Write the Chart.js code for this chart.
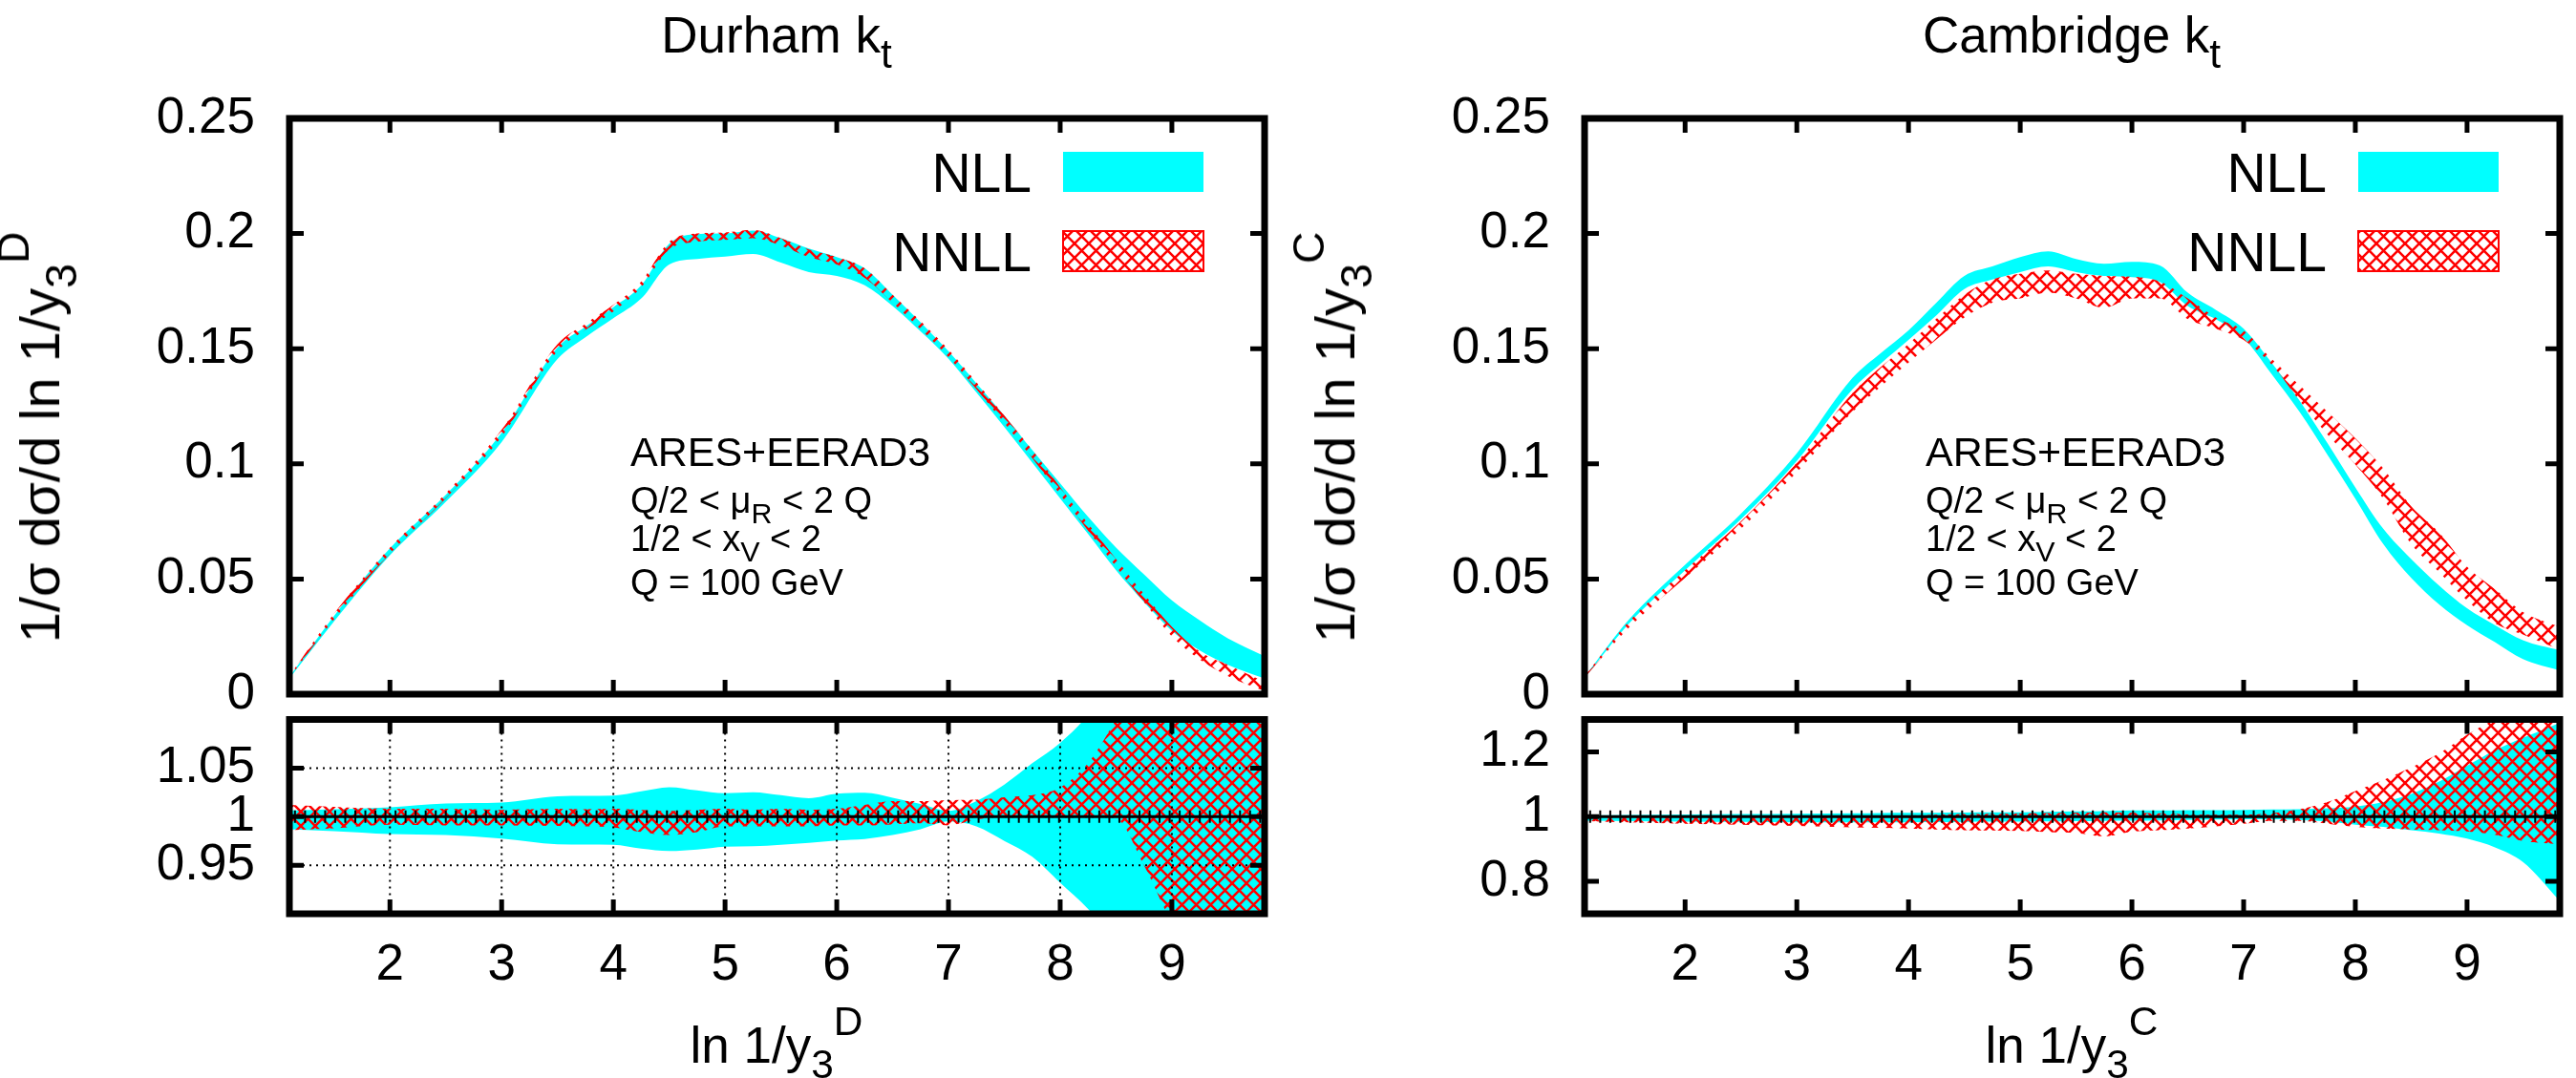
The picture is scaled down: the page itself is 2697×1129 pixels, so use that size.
<!DOCTYPE html>
<html>
<head>
<meta charset="utf-8">
<script src="https://cdn.jsdelivr.net/npm/chart.js@4.4.1/dist/chart.umd.min.js"></script>
<style>
  html, body { margin: 0; padding: 0; background: #fff; }
  body { width: 2697px; height: 1129px; position: relative; overflow: hidden;
         font-family: 'Liberation Sans', Arial, Helvetica, sans-serif; color: #000; }
  canvas { position: absolute; }
  .t { position: absolute; white-space: nowrap; line-height: 1; }
  .sub { font-size: 0.8em; position: relative; top: 0.38em; }
  .sup { font-size: 0.8em; position: relative; top: -0.68em; }
</style>
</head>
<body>
<canvas id="durMain" width="1348" height="745" style="left:0;top:0"></canvas>
<canvas id="durRatio" width="1348" height="384" style="left:0;top:745px"></canvas>
<canvas id="camMain" width="1349" height="745" style="left:1348px;top:0"></canvas>
<canvas id="camRatio" width="1349" height="384" style="left:1348px;top:745px"></canvas>
<script>
// --- Data ---

const lnY3 = [1.1, 1.5, 2, 2.5, 3, 3.5, 3.75, 4, 4.25, 4.5, 4.75, 5, 5.25, 5.5, 5.75, 6,
              6.25, 6.5, 6.75, 7, 7.25, 7.5, 7.75, 8, 8.25, 8.5, 8.75, 9, 9.25, 9.5, 9.83];

// Durham, distribution
const durNllHi  = [.0075, .034, .0633, .0865, .1135, .1505, .1595, .1680, .1775, .1956, .1997, .2000, .2013, .1980, .1935, .1898,
                   .1849, .1734, .1615, .1489, .1350, .1210, .1060, .0915, .0770, .0636, .0520, .0407, .0320, .0243, .0165];
const durNllLo  = [.0068, .0316, .0603, .0835, .1095, .1455, .1550, .1632, .1718, .1866, .1890, .1900, .1911, .1874, .1833, .1816,
                   .1775, .1685, .1575, .1456, .1310, .1160, .1005, .0850, .0695, .0538, .0400, .0275, .0190, .0128, .0068];
const durNnllHi = [.0078, .0350, .0636, .0872, .1148, .1520, .1608, .1690, .1792, .1964, .2000, .2005, .2016, .1980, .1931, .1898,
                   .1849, .1734, .1620, .1497, .1355, .1210, .1060, .0898, .0740, .0587, .0435, .0292, .0185, .0128, .0054];
const durNnllLo = [.0072, .0325, .0610, .0850, .1118, .1490, .1582, .1662, .1767, .1931, .1964, .1972, .1980, .1948, .1898, .1866,
                   .1808, .1700, .1585, .1464, .1325, .1177, .1025, .0866, .0710, .0554, .0400, .0251, .0150, .0079, .0013];

// Cambridge, distribution
const camNllHi  = [.0075, .0325, .0562, .0784, .1046, .1374, .1480, .1580, .1700, .1816, .1857, .1898, .1923, .1890, .1869, .1877,
                   .1862, .1743, .1669, .1587, .1440, .1275, .1090, .0898, .0718, .0587, .0472, .0373, .0300, .0234, .0190];
const camNllLo  = [.0070, .0308, .0538, .0760, .1013, .1325, .1435, .1538, .1645, .1759, .1800, .1833, .1857, .1833, .1816, .1811,
                   .1790, .1685, .1628, .1546, .1390, .1226, .1040, .0849, .0652, .0505, .0390, .0300, .0226, .0152, .0103];
const camNnllHi = [.0078, .0317, .0538, .0750, .1005, .1308, .1420, .1521, .1630, .1734, .1800, .1825, .1840, .1825, .1816, .1813,
                   .1792, .1718, .1636, .1579, .1456, .1341, .1226, .1111, .0980, .0816, .0702, .0554, .0456, .0357, .0292];
const camNnllLo = [.0072, .0290, .0505, .0718, .0964, .1226, .1335, .1440, .1540, .1636, .1700, .1718, .1743, .1718, .1677, .1718,
                   .1718, .1628, .1587, .1538, .1431, .1275, .1128, .0997, .0849, .0652, .0530, .0407, .0308, .0259, .0193];

// Durham, ratio
const durRNllHi  = [1.0065, 1.0077, 1.0097, 1.0135, 1.0145, 1.0210, 1.0213, 1.0216, 1.0260, 1.0303, 1.0270, 1.0240, 1.0250, 1.0220, 1.0190, 1.0235,
                    1.0245, 1.0195, 1.0130, 1.0060, 1.0160, 1.0330, 1.0550, 1.0760, 1.1050, 1.1500, 1.1900, 1.2300, 1.2700, 1.3100, 1.3600];
const durRNllLo  = [0.987, 0.985, 0.982, 0.981, 0.9775, 0.9716, 0.9713, 0.971, 0.967, 0.9645, 0.966, 0.969, 0.9695, 0.971, 0.973, 0.9755,
                    0.977, 0.981, 0.987, 0.995, 0.990, 0.975, 0.9587, 0.932, 0.905, 0.870, 0.830, 0.790, 0.750, 0.710, 0.660];
const durRNnllHi = [1.012, 1.010, 1.008, 1.008, 1.007, 1.008, 1.0075, 1.008, 1.007, 1.006, 1.007, 1.008, 1.007, 1.008, 1.007, 1.008,
                    1.012, 1.016, 1.016, 1.017, 1.0175, 1.020, 1.022, 1.030, 1.055, 1.100, 1.150, 1.200, 1.250, 1.300, 1.360];
const durRNnllLo = [0.986, 0.988, 0.9916, 0.991, 0.991, 0.9905, 0.990, 0.989, 0.984, 0.981, 0.984, 0.990, 0.990, 0.990, 0.990, 0.991,
                    0.991, 0.992, 0.993, 0.991, 0.997, 1.000, 1.000, 1.000, 1.000, 0.998, 0.950, 0.890, 0.840, 0.790, 0.730];

// Cambridge, ratio
const camRNllHi  = [1.004, 1.005, 1.007, 1.008, 1.009, 1.010, 1.011, 1.0116, 1.012, 1.0125, 1.013, 1.0135, 1.015, 1.016, 1.017, 1.019,
                    1.019, 1.020, 1.020, 1.021, 1.022, 1.023, 1.026, 1.031, 1.045, 1.070, 1.108, 1.157, 1.205, 1.243, 1.290];
const camRNllLo  = [0.9874, 0.986, 0.9845, 0.9835, 0.9826, 0.9826, 0.9826, 0.9826, 0.983, 0.984, 0.9845, 0.9845, 0.985, 0.986, 0.987, 0.9874,
                    0.988, 0.990, 0.991, 0.992, 0.992, 0.990, 0.985, 0.975, 0.968, 0.958, 0.948, 0.932, 0.905, 0.860, 0.740];
const camRNnllHi = [1.002, 1.001, 1.000, 1.001, 1.002, 1.003, 1.004, 1.004, 1.006, 1.008, 1.009, 1.0097, 1.011, 1.0116, 1.013, 1.0116,
                    1.010, 1.007, 1.006, 1.006, 1.010, 1.023, 1.045, 1.079, 1.113, 1.152, 1.195, 1.253, 1.300, 1.340, 1.380];
const camRNnllLo = [0.987, 0.982, 0.978, 0.975, 0.971, 0.967, 0.965, 0.963, 0.960, 0.958, 0.957, 0.9556, 0.952, 0.949, 0.939, 0.9536,
                    0.958, 0.963, 0.970, 0.978, 0.987, 0.987, 0.978, 0.968, 0.963, 0.960, 0.958, 0.954, 0.944, 0.925, 0.915];

// bin centres of the reference points drawn on the ratio line
const refBins = [1.15, 1.24, 1.33, 1.42, 1.51, 1.60, 1.69, 1.78, 1.87, 1.96, 2.05, 2.14, 2.23, 2.32, 2.41, 2.50,
                 2.59, 2.68, 2.77, 2.86, 2.95, 3.04, 3.13, 3.22, 3.31, 3.40, 3.49, 3.58, 3.67, 3.76, 3.85, 3.94,
                 4.03, 4.12, 4.21, 4.30, 4.39, 4.48, 4.57, 4.66, 4.75, 4.84, 4.93, 5.02, 5.11, 5.20, 5.29, 5.38,
                 5.47, 5.56, 5.65, 5.74, 5.83, 5.92, 6.01, 6.10, 6.19, 6.28, 6.37, 6.46, 6.55, 6.64, 6.73, 6.82,
                 6.91, 7.00, 7.09, 7.18, 7.27, 7.36, 7.45, 7.54, 7.63, 7.72, 7.81, 7.90, 7.99, 8.08, 8.17, 8.26,
                 8.35, 8.44, 8.53, 8.62, 8.71, 8.80, 8.89, 8.98, 9.07, 9.16, 9.25, 9.34, 9.43, 9.52, 9.61, 9.70, 9.79];

const xMin = 1.1, xMax = 9.83;
const xTickVals = [2, 3, 4, 5, 6, 7, 8, 9];
const xTickLabels = ['2', '3', '4', '5', '6', '7', '8', '9'];
const mainYTicks = [0, 0.05, 0.1, 0.15, 0.2, 0.25];
const mainYLabels = ['0', '0.05', '0.1', '0.15', '0.2', '0.25'];
const durRatioTicks = [0.95, 1, 1.05];
const durRatioLabels = ['0.95', '1', '1.05'];
const camRatioTicks = [0.8, 1, 1.2];
const camRatioLabels = ['0.8', '1', '1.2'];

// --- Styling helpers ---

const FONT = "'Liberation Sans', Arial, Helvetica, sans-serif";
const CYAN = '#00ffff';
const RED = '#ff0000';

function makeHatch(size, lw) {
    const c = document.createElement('canvas');
    c.width = c.height = size;
    const g = c.getContext('2d');
    g.strokeStyle = RED;
    g.lineWidth = lw;
    g.beginPath();
    for (const k of [-size, 0, size]) {
        g.moveTo(k, 0); g.lineTo(k + size, size);
        g.moveTo(k, size); g.lineTo(k + size, 0);
    }
    g.stroke();
    return g.createPattern(c, 'repeat');
}
const hatch = makeHatch(15, 2.5);

// frame, inward ticks on all four sides, optional grid and key
const framePlugin = {
    id: 'frame',
    afterDatasetsDraw(chart, args, o) {
        const { ctx, chartArea: a } = chart;
        const sx = chart.scales.x, sy = chart.scales.y;
        const yTicks = o.yTicks || [];
        ctx.save();
        if (o.grid) {
            ctx.strokeStyle = '#000';
            ctx.lineWidth = 2;
            ctx.setLineDash([2, 5]);
            ctx.beginPath();
            xTickVals.forEach(v => { const p = sx.getPixelForValue(v); ctx.moveTo(p, a.top); ctx.lineTo(p, a.bottom); });
            yTicks.forEach(v => { const p = sy.getPixelForValue(v); ctx.moveTo(a.left, p); ctx.lineTo(a.right, p); });
            ctx.stroke();
            ctx.setLineDash([]);
        }
        const L = 15;
        ctx.strokeStyle = '#000';
        ctx.lineWidth = 5;
        ctx.beginPath();
        xTickVals.forEach(v => {
            const p = sx.getPixelForValue(v);
            ctx.moveTo(p, a.bottom); ctx.lineTo(p, a.bottom - L);
            ctx.moveTo(p, a.top); ctx.lineTo(p, a.top + L);
        });
        yTicks.forEach(v => {
            const p = sy.getPixelForValue(v);
            ctx.moveTo(a.left, p); ctx.lineTo(a.left + L, p);
            ctx.moveTo(a.right, p); ctx.lineTo(a.right - L, p);
        });
        ctx.stroke();
        ctx.lineWidth = 7;
        ctx.strokeRect(a.left, a.top, a.right - a.left, a.bottom - a.top);

        if (o.legend) {
            const ds = chart.data.datasets;
            const w = 147, h = 42, x0 = a.right - 64 - w;
            const rows = [
                { label: ds[1].label, top: a.top + 35, fill: CYAN, border: null },
                { label: ds[3].label, top: a.top + 118, fill: hatch, border: RED }
            ];
            ctx.font = '57px ' + FONT;
            ctx.textAlign = 'right';
            ctx.textBaseline = 'alphabetic';
            rows.forEach(r => {
                ctx.fillStyle = r.fill;
                ctx.fillRect(x0, r.top, w, h);
                if (r.border) {
                    ctx.strokeStyle = r.border;
                    ctx.lineWidth = 2;
                    ctx.strokeRect(x0, r.top, w, h);
                }
                ctx.fillStyle = '#000';
                ctx.fillText(r.label, x0 - 33, r.top + h);
            });
        }
        ctx.restore();
    }
};

function makeChart(id, cfg) {
    const pts = arr => lnY3.map((x, i) => ({ x, y: arr[i] }));
    // higher order is drawn first: NLL underneath, NNLL hatch above, reference line on top
    const band = (label, data, bg, fill, order) => ({
        label, data, fill, order,
        backgroundColor: bg,
        borderColor: 'rgba(0,0,0,0)',
        borderWidth: 0,
        pointRadius: 0,
        cubicInterpolationMode: 'monotone'
    });
    const datasets = [
        band('NLL low', pts(cfg.nllLo), 'rgba(0,0,0,0)', false, 3),
        band('NLL', pts(cfg.nllHi), CYAN, '-1', 3),
        band('NNLL low', pts(cfg.nnllLo), 'rgba(0,0,0,0)', false, 2),
        band('NNLL', pts(cfg.nnllHi), hatch, '-1', 2)
    ];
    if (cfg.ratio) {
        datasets.push({
            label: 'ref',
            order: 1,
            data: refBins.map(x => ({ x, y: 1 })),
            borderColor: '#000',
            borderWidth: 3,
            pointStyle: 'line',
            rotation: 90,
            pointRadius: 6.5,
            pointBorderWidth: 2,
            pointBorderColor: '#000',
            fill: false
        });
    }
    const tickFont = { family: FONT, size: 53 };
    return new Chart(document.getElementById(id), {
        type: 'line',
        data: { datasets },
        plugins: [framePlugin],
        options: {
            responsive: false,
            animation: false,
            devicePixelRatio: 1,
            layout: { padding: cfg.padding },
            plugins: {
                legend: { display: false },
                tooltip: { enabled: false },
                frame: { yTicks: cfg.yTicks, grid: !!cfg.grid, legend: !cfg.ratio }
            },
            scales: {
                x: {
                    type: 'linear', min: xMin, max: xMax,
                    display: !!cfg.ratio,
                    grid: { display: false, drawTicks: false },
                    border: { display: false },
                    afterBuildTicks: s => { s.ticks = xTickVals.map(v => ({ value: v })); },
                    ticks: { font: tickFont, color: '#000', padding: 23, maxRotation: 0, autoSkip: false,
                             callback: (v, i) => xTickLabels[i] },
                    afterFit: s => { s.height = cfg.ratio ? 172 : 0; s.paddingLeft = 0; s.paddingRight = 0; }
                },
                y: {
                    type: 'linear', min: cfg.yMin, max: cfg.yMax,
                    grid: { display: false, drawTicks: false },
                    border: { display: false },
                    afterBuildTicks: s => { s.ticks = cfg.yTicks.map(v => ({ value: v })); },
                    ticks: { font: tickFont, color: '#000', padding: 36, autoSkip: false,
                             callback: (v, i) => cfg.yLabels[i] },
                    afterFit: s => { s.width = cfg.yWidth; s.paddingTop = 0; s.paddingBottom = 0; }
                }
            }
        }
    });
}

makeChart('durMain', {
    nllLo: durNllLo, nllHi: durNllHi, nnllLo: durNnllLo, nnllHi: durNnllHi,
    yMin: 0, yMax: 0.25, yTicks: mainYTicks, yLabels: mainYLabels,
    yWidth: 303, padding: { top: 124, right: 24, bottom: 18, left: 0 }
});
makeChart('durRatio', {
    nllLo: durRNllLo, nllHi: durRNllHi, nnllLo: durRNnllLo, nnllHi: durRNnllHi,
    yMin: 0.9, yMax: 1.1, yTicks: durRatioTicks, yLabels: durRatioLabels,
    yWidth: 303, padding: { top: 6, right: 24, bottom: 0, left: 0 }, ratio: true, grid: true
});
makeChart('camMain', {
    nllLo: camNllLo, nllHi: camNllHi, nnllLo: camNnllLo, nnllHi: camNnllHi,
    yMin: 0, yMax: 0.25, yTicks: mainYTicks, yLabels: mainYLabels,
    yWidth: 311, padding: { top: 124, right: 17, bottom: 18, left: 0 }
});
makeChart('camRatio', {
    nllLo: camRNllLo, nllHi: camRNllHi, nnllLo: camRNnllLo, nnllHi: camRNnllHi,
    yMin: 0.7, yMax: 1.3, yTicks: camRatioTicks, yLabels: camRatioLabels,
    yWidth: 311, padding: { top: 6, right: 17, bottom: 0, left: 0 }, ratio: true
});

// --- Text around the plots ---

function addText(html, x, baseline, size, align) {
    const d = document.createElement('div');
    d.className = 't';
    d.innerHTML = html;
    d.style.fontSize = size + 'px';
    d.style.left = x + 'px';
    d.style.top = (baseline - 0.8465 * size) + 'px';
    if (align === 'center') d.style.transform = 'translateX(-50%)';
    document.body.appendChild(d);
}

function addYLabel(html, cx, cy, size) {
    const d = document.createElement('div');
    d.className = 't';
    d.innerHTML = html;
    d.style.fontSize = size + 'px';
    d.style.left = cx + 'px';
    d.style.top = cy + 'px';
    d.style.transform = 'translate(-50%, -50%) rotate(-90deg)';
    document.body.appendChild(d);
}

const panels = [
    { dx: 0, title: 'Durham k<span class="sub">t</span>', sup: 'D' },
    { dx: 1356, title: 'Cambridge k<span class="sub">t</span>', sup: 'C' }
];
panels.forEach(p => {
    addText(p.title, 813 + p.dx, 55, 53, 'center');
    addText('ln 1/y<span class="sub">3</span><span class="sup">' + p.sup + '</span>', 813 + p.dx, 1113, 53, 'center');
    addYLabel('1/σ dσ/d ln 1/y<span class="sub">3</span><span class="sup">' + p.sup + '</span>', 42 + p.dx, 458, 58);
    addText('ARES+EERAD3', 660 + p.dx, 488, 43);
    addText('Q/2 &lt; μ<span class="sub">R</span> &lt; 2 Q', 660 + p.dx, 537, 38);
    addText('1/2 &lt; x<span class="sub">V</span> &lt; 2', 660 + p.dx, 577, 38);
    addText('Q = 100 GeV', 660 + p.dx, 623, 38);
});
</script>
</body>
</html>
